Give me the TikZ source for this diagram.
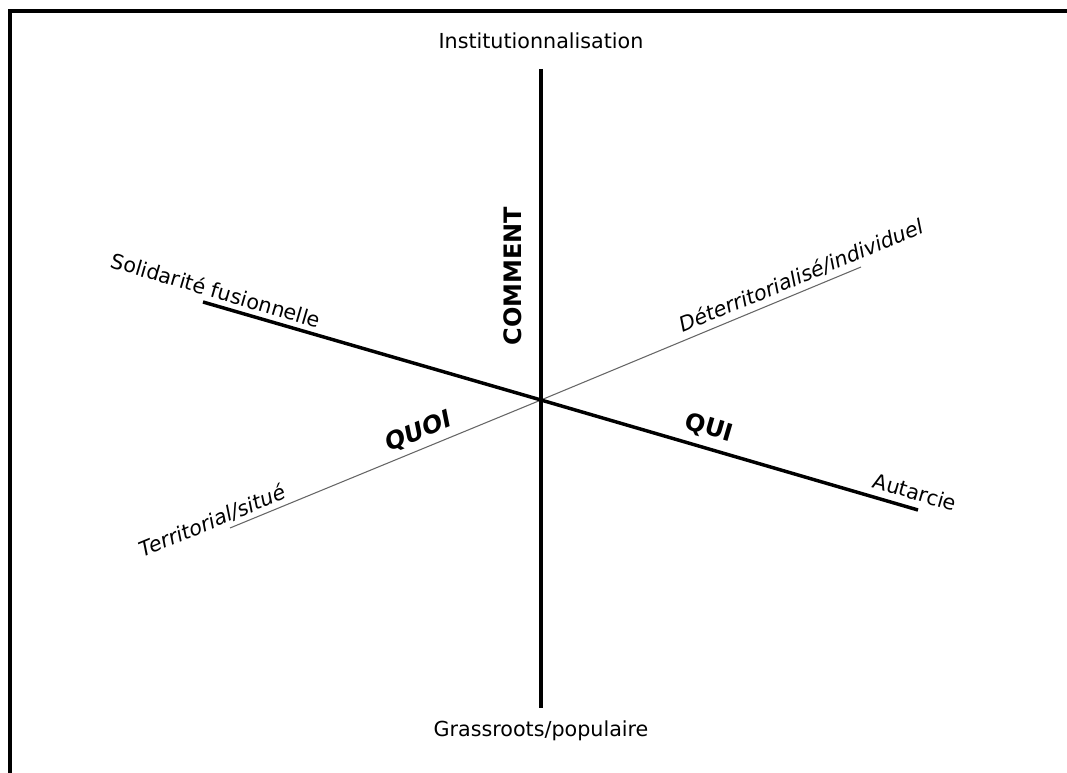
\documentclass[tikz,border=0pt]{standalone}
\usepackage{fontspec}
\setmainfont{DejaVu Sans}

\begin{document}
\begin{tikzpicture}[x=7.5pt,y=-7.5pt,
  axe/.style={line width=2.9pt},
  fine/.style={black!60,line width=0.8pt},
  lbl/.style={inner sep=0pt,font=\fontsize{15.5}{18}\selectfont},
  gras/.style={inner sep=0pt,font=\fontsize{18}{21}\selectfont\bfseries}]
\useasboundingbox (0,0) rectangle (106.7,77.3);
\draw[line width=3pt] (110,1.15)--(1.0,1.15)--(1.0,80);
\coordinate (O) at (54.1,40); \coordinate (H) at (54.1,6.9); \coordinate (G) at (54.1,70.8);
\coordinate (S) at (20.3,30.2); \coordinate (A) at (91.8,51.0);
\coordinate (T) at (23.0,52.8); \coordinate (D) at (86.1,26.7);
\draw[fine] (T)--(O)--(D);
\draw[axe] (H)--(G);
\draw[line width=2.6pt] (S)--(O)--(A);
\node[lbl] (inst) at (54.1,4.1) {Institutionnalisation};
\node[lbl] (gras) at (54.1,73.1) {Grassroots/populaire};
\node[gras,rotate=90] (comment) at (51.3,27.6) {COMMENT};
\node[lbl,rotate=-16.3] (sol) at (21.6,29.0) {Solidarité fusionnelle};
\node[lbl,rotate=-16.3] (aut) at (91.5,49.2) {Autarcie};
\node[gras,rotate=-16.3] (qui) at (70.9,42.8) {QUI};
\node[gras,rotate=22.5] (quoi) at (41.9,43.2) {\itshape QUOI};
\node[lbl,rotate=22.5] (ter) at (21.2,52.1) {\itshape Territorial/situé};
\node[lbl,rotate=22.5] (det) at (80.1,27.6) {\itshape Déterritorialisé/individuel};
\end{tikzpicture}
\end{document}
